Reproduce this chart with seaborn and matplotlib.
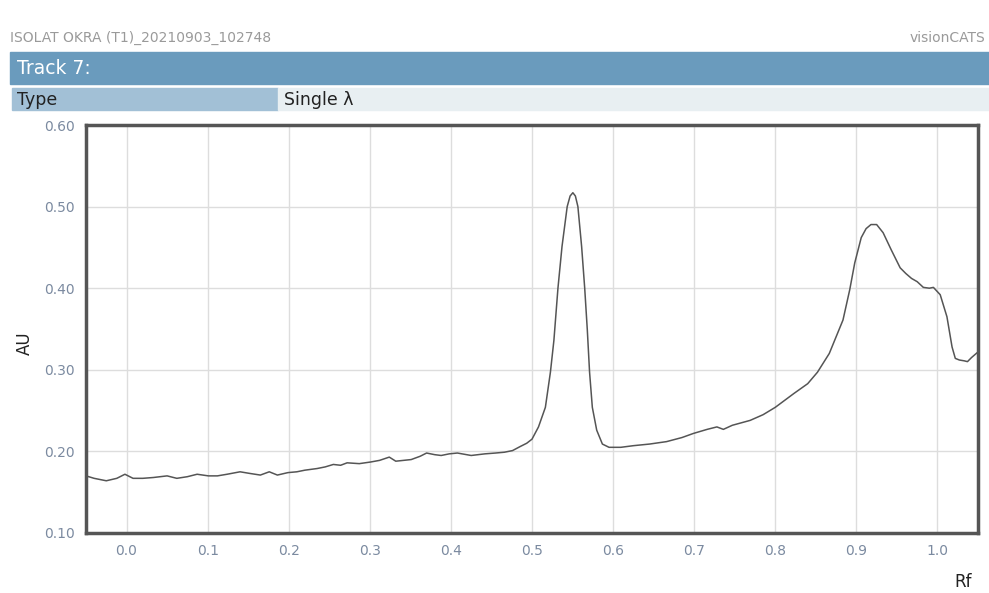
import pandas as pd
import seaborn as sns
import matplotlib.pyplot as plt
from matplotlib.patches import Rectangle

# Densitogram values (Rf vs absorbance)
rf = [-0.05, -0.04, -0.025, -0.012, -0.002, 0.008, 0.02, 0.033, 0.05, 0.062,
      0.075, 0.087, 0.101, 0.112, 0.124, 0.14, 0.152, 0.165, 0.176, 0.186,
      0.199, 0.21, 0.22, 0.235, 0.245, 0.255, 0.264, 0.272, 0.287, 0.301,
      0.312, 0.324, 0.332, 0.351, 0.362, 0.37, 0.38, 0.388, 0.398, 0.408,
      0.425, 0.442, 0.455, 0.466, 0.476, 0.4855, 0.4935, 0.5, 0.508, 0.5165,
      0.5227, 0.527, 0.532, 0.537, 0.5434, 0.547, 0.5504, 0.5535, 0.5566, 0.5612,
      0.565, 0.5682, 0.571, 0.5744, 0.5798, 0.5868, 0.595, 0.6095, 0.625, 0.645,
      0.666, 0.685, 0.699, 0.716, 0.728, 0.736, 0.747, 0.769, 0.785, 0.8,
      0.823, 0.84, 0.852, 0.8666, 0.8835, 0.8918, 0.898, 0.906, 0.912, 0.918,
      0.925, 0.933, 0.943, 0.954, 0.961, 0.968, 0.975, 0.9826, 0.99, 0.995,
      1.0034, 1.0117, 1.018, 1.022, 1.027, 1.033, 1.037, 1.042, 1.049]
au = [0.170, 0.167, 0.164, 0.167, 0.172, 0.167, 0.167, 0.168, 0.170, 0.167,
      0.169, 0.172, 0.170, 0.170, 0.172, 0.175, 0.173, 0.171, 0.175, 0.171,
      0.174, 0.175, 0.177, 0.179, 0.181, 0.184, 0.183, 0.186, 0.185, 0.187,
      0.189, 0.193, 0.188, 0.190, 0.194, 0.198, 0.196, 0.195, 0.197, 0.198,
      0.195, 0.197, 0.198, 0.199, 0.201, 0.206, 0.210, 0.215, 0.230, 0.254,
      0.297, 0.336, 0.400, 0.451, 0.500, 0.513, 0.517, 0.513, 0.500, 0.451,
      0.400, 0.349, 0.297, 0.254, 0.226, 0.209, 0.205, 0.205, 0.207, 0.209,
      0.212, 0.217, 0.222, 0.227, 0.230, 0.227, 0.232, 0.238, 0.245, 0.254,
      0.271, 0.283, 0.297, 0.320, 0.361, 0.398, 0.431, 0.462, 0.473, 0.478,
      0.478, 0.468, 0.447, 0.425, 0.418, 0.412, 0.408, 0.401, 0.400, 0.401,
      0.392, 0.365, 0.328, 0.314, 0.312, 0.311, 0.310, 0.315, 0.321]

x_ticks = [0.0, 0.1, 0.2, 0.3, 0.4, 0.5, 0.6, 0.7, 0.8, 0.9, 1.0]
y_ticks = [0.10, 0.20, 0.30, 0.40, 0.50, 0.60]

df = pd.DataFrame({'Rf': rf, 'AU': au})

sns.set_style('white')
fig = plt.figure(figsize=(9.89, 5.93), dpi=100)

# header strips
fig.text(10 / 989, 1 - 38 / 593, 'ISOLAT OKRA (T1)_20210903_102748', fontsize=10,
         color='#9a9a9a', va='center', ha='left')
fig.text(985 / 989, 1 - 38 / 593, 'visionCATS', fontsize=10, color='#9a9a9a',
         va='center', ha='right')
fig.patches.append(Rectangle((10 / 989, 1 - 84 / 593), 979 / 989, 32 / 593,
                             transform=fig.transFigure, color='#6a9bbd', zorder=0))
fig.text(17 / 989, 1 - 68 / 593, 'Track 7:', fontsize=13.5, color='white', va='center')
fig.patches.append(Rectangle((12 / 989, 1 - 110 / 593), 266 / 989, 22 / 593,
                             transform=fig.transFigure, color='#a2c0d6', zorder=0))
fig.patches.append(Rectangle((278 / 989, 1 - 110 / 593), 711 / 989, 22 / 593,
                             transform=fig.transFigure, color='#e8eff2', zorder=0))
fig.text(17 / 989, 1 - 100 / 593, 'Type', fontsize=12.5, color='#222222', va='center')
fig.text(284 / 989, 1 - 100 / 593, 'Single λ', fontsize=12.5, color='#222222', va='center')

ax = fig.add_axes([86 / 989, 60 / 593, 892 / 989, 408 / 593])
sns.lineplot(data=df, x='Rf', y='AU', ax=ax, color='#555555', linewidth=1.1)

ax.set_xlim(-0.05, 1.05)
ax.set_ylim(0.10, 0.60)
ax.set_xticks(x_ticks)
ax.set_xticklabels([f'{t:.1f}' for t in x_ticks])
ax.set_yticks(y_ticks)
ax.set_yticklabels([f'{t:.2f}' for t in y_ticks])
ax.grid(True, color='#dddddd', linewidth=1)
ax.tick_params(axis='both', length=0, labelsize=10, labelcolor='#7b8aa0', pad=8)
for s in ax.spines.values():
    s.set_color('#555555')
    s.set_linewidth(2.5)

ax.set_xlabel('')
ax.set_ylabel('')
fig.text(25 / 989, 1 - 343 / 593, 'AU', rotation=90, fontsize=12, color='#222222',
         va='center', ha='center')
fig.text(963 / 989, 1 - 582 / 593, 'Rf', fontsize=12, color='#222222',
         va='center', ha='center')

plt.savefig('out.png', dpi=100)
